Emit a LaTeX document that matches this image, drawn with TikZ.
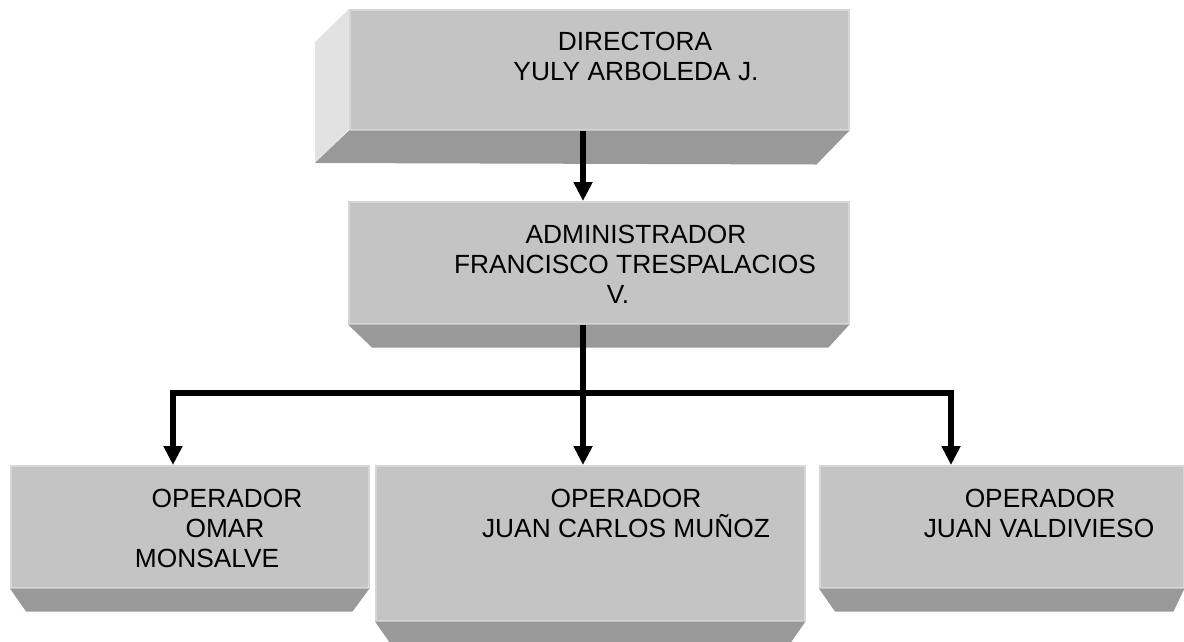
\documentclass[tikz,border=0pt]{standalone}
\usepackage{fontspec}
\setmainfont{Liberation Sans}
\usetikzlibrary{arrows.meta,calc}
\definecolor{facegray}{HTML}{C4C4C4}
\definecolor{faceedge}{HTML}{D6D6D6}
\definecolor{bevelgray}{HTML}{999999}
\definecolor{sidegray}{HTML}{E2E2E2}
\tikzset{
  face/.style={rectangle, fill=facegray, draw=faceedge, line width=1.5pt, inner sep=0pt, anchor=north west},
  bevel/.style={fill=bevelgray},
  side/.style={fill=sidegray},
  lbl/.style={anchor=base, inner sep=0pt, font=\fontsize{26.3pt}{30pt}\selectfont},
  conn/.style={line width=6pt, draw=black, line join=miter},
  arr/.style={conn, -{Triangle[width=18pt,length=19pt]}}
}
\begin{document}
\begin{tikzpicture}[x=1pt,y=-1pt]
\useasboundingbox (0,0) rectangle (1184,641);

% Directora box
\fill[side] (315,42) -- (349,9) -- (349,129) -- (315,163) -- cycle;
\node[face, minimum width=499pt, minimum height=120pt] (dir) at (349,9) {};
\fill[bevel] (dir.south west) -- (dir.south east) -- ++(-33,34) -- (315,163) -- cycle;

% Administrador box
\node[face, minimum width=500pt, minimum height=122pt] (adm) at (348,201) {};
\fill[bevel] (adm.south west) -- (adm.south east) -- ++(-21,23) -- ($(adm.south west)+(24,23)$) -- cycle;

% Operators
\node[face, minimum width=358pt, minimum height=122pt] (op1) at (10,465) {};
\fill[bevel] (op1.south west) -- (op1.south east) -- ++(-17,23) -- ($(op1.south west)+(16,23)$) -- cycle;

\node[face, minimum width=429pt, minimum height=155pt] (op2) at (375,465) {};
\fill[bevel] (op2.south west) -- (op2.south east) -- ++(-16,23) -- ($(op2.south west)+(16,23)$) -- cycle;

\node[face, minimum width=364pt, minimum height=122pt] (op3) at (819,465) {};
\fill[bevel] (op3.south west) -- (op3.south east) -- ++(-11,23) -- ($(op3.south west)+(16,23)$) -- cycle;

% Labels
\node[lbl] (dirA) at (635,50) {DIRECTORA};
\node[lbl] (dirB) at (636,80) {YULY ARBOLEDA J.};

\node[lbl] (admA) at (636,243) {ADMINISTRADOR};
\node[lbl] (admB) at (635,273) {FRANCISCO TRESPALACIOS};
\node[lbl] (admC) at (618,303) {V.};

\node[lbl] (op1A) at (227,507) {OPERADOR};
\node[lbl] (op1B) at (225,537) {OMAR};
\node[lbl] (op1C) at (207,567) {MONSALVE};

\node[lbl] (op2A) at (626,507) {OPERADOR};
\node[lbl] (op2B) at (626,537) {JUAN CARLOS MUÑOZ};

\node[lbl] (op3A) at (1040,507) {OPERADOR};
\node[lbl] (op3B) at (1039,537) {JUAN VALDIVIESO};

% Connectors
\coordinate (jn) at (583,393);
\coordinate (cl) at (173,393);
\coordinate (cr) at (951,393);

\draw[arr] (dir.south -| jn) -- (jn |- adm.north);
\draw[conn] (adm.south -| jn) -- (jn);
\draw[arr] (jn) -- (cl) -- (cl |- op1.north);
\draw[arr] (jn) -- (jn |- op2.north);
\draw[arr] (jn) -- (cr) -- (cr |- op3.north);
\end{tikzpicture}
\end{document}
